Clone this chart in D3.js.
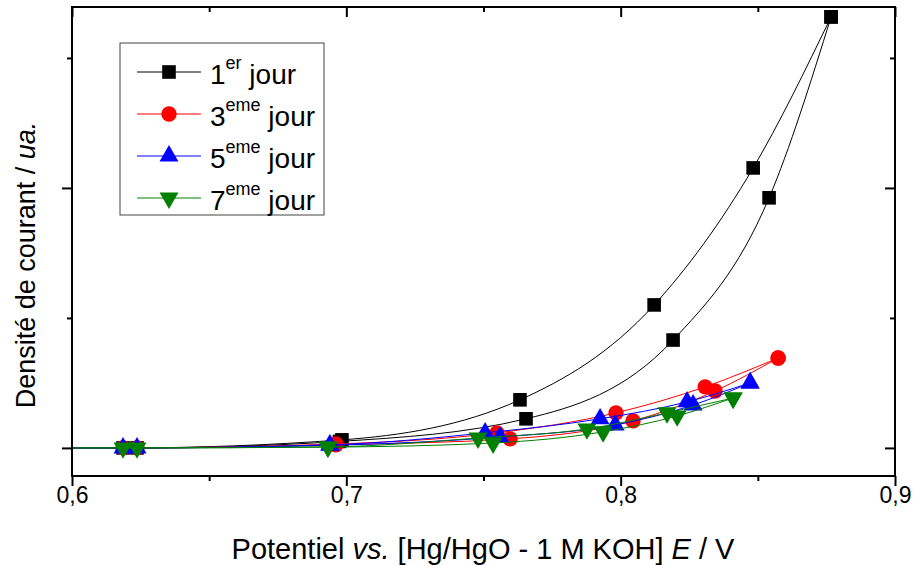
<!DOCTYPE html>
<html>
<head>
<meta charset="utf-8">
<script src="https://cdn.jsdelivr.net/npm/d3@7"></script>
<style>
  html, body { margin: 0; padding: 0; background: #fff; }
  svg { display: block; font-family: "Liberation Sans", Arial, sans-serif; }
</style>
</head>
<body>
<svg id="chart" width="914" height="566"></svg>
<script>
// ---------------- DATA ----------------
const seriesNames = ["1er jour", "3eme jour", "5eme jour", "7eme jour"];
const seriesColors = ["#000000", "#ff0000", "#0000ff", "#008000"];
const seriesSymbols = ["square", "circle", "triangleUp", "triangleDown"];

// curves start at the left edge of the axis at zero current
const curveOrigin = [0.6, 0];

// forward branch (upper curve) : potential (V), current (ua)
const jour1FwdE = [0.6186, 0.6984, 0.7633, 0.8122, 0.8483, 0.8767];
const jour1FwdI = [0.000, 0.031, 0.185, 0.550, 1.077, 1.658];
// reverse branch (lower curve)
const jour1RevE = [0.6237, 0.6975, 0.7655, 0.8191, 0.8541, 0.8767];
const jour1RevI = [0.000, 0.025, 0.112, 0.415, 0.962, 1.658];

const jour3FwdE = [0.6186, 0.6962, 0.7549, 0.7983, 0.8308, 0.8574];
const jour3FwdI = [0.000, 0.015, 0.058, 0.135, 0.235, 0.346];
const jour3RevE = [0.6237, 0.6962, 0.7597, 0.8045, 0.8344, 0.8574];
const jour3RevI = [0.000, 0.012, 0.035, 0.104, 0.219, 0.346];

const jour5FwdE = [0.6186, 0.6940, 0.7506, 0.7925, 0.8242, 0.8472];
const jour5FwdI = [0.000, 0.012, 0.058, 0.112, 0.177, 0.250];
const jour5RevE = [0.6237, 0.6940, 0.7560, 0.7980, 0.8264, 0.8472];
const jour5RevI = [0.000, 0.010, 0.042, 0.088, 0.165, 0.250];

const jour7FwdE = [0.6186, 0.6933, 0.7480, 0.7877, 0.8169, 0.8410];
const jour7FwdI = [0.000, 0.004, 0.038, 0.073, 0.135, 0.192];
const jour7RevE = [0.6237, 0.6933, 0.7535, 0.7936, 0.8206, 0.8410];
const jour7RevI = [0.000, 0.003, 0.019, 0.062, 0.123, 0.192];

const xMajorTicks = [0.6, 0.7, 0.8, 0.9];
const xMinorTicks = [0.65, 0.75, 0.85];
const yMajorTicks = [0, 1];
const yMinorTicks = [0.5, 1.5];
const xDomain = [0.6, 0.9];
const yDomain = [-0.108, 1.696];

// ---------------- BUILD ----------------
const zip = (E, I) => E.map((e, i) => [e, I[i]]);
const series = [
  { fwd: zip(jour1FwdE, jour1FwdI), rev: zip(jour1RevE, jour1RevI) },
  { fwd: zip(jour3FwdE, jour3FwdI), rev: zip(jour3RevE, jour3RevI) },
  { fwd: zip(jour5FwdE, jour5FwdI), rev: zip(jour5RevE, jour5RevI) },
  { fwd: zip(jour7FwdE, jour7FwdI), rev: zip(jour7RevE, jour7RevI) }
].map((s, i) => ({ ...s, name: seriesNames[i], color: seriesColors[i], symbol: seriesSymbols[i] }));

const svg = d3.select("#chart");
const L = 72, R = 895, T = 7, B = 476;
const x = d3.scaleLinear().domain(xDomain).range([L, R]);
const y = d3.scaleLinear().domain(yDomain).range([B, T]);

const symbolPath = {
  square: d3.symbol().type(d3.symbolSquare).size(185)(),
  circle: d3.symbol().type(d3.symbolCircle).size(185)(),
  triangleUp: d3.symbol().type(d3.symbolTriangle).size(155)(),
  triangleDown: d3.symbol().type(d3.symbolTriangle).size(155)()
};
function drawMarker(g, sym, color, cx, cy) {
  g.append("path")
    .attr("d", symbolPath[sym])
    .attr("transform", `translate(${cx},${cy})` + (sym === "triangleDown" ? " rotate(180)" : ""))
    .attr("fill", color);
}

const line = d3.line().x(d => x(d[0])).y(d => y(d[1])).curve(d3.curveMonotoneX);

const plot = svg.append("g");
series.forEach(s => {
  const g = plot.append("g");
  [s.fwd, s.rev].forEach(branch => {
    g.append("path")
      .datum([curveOrigin, ...branch])
      .attr("d", line)
      .attr("fill", "none")
      .attr("stroke", s.color)
      .attr("stroke-width", 1);
  });
  [...s.fwd, ...s.rev].forEach(p => drawMarker(g, s.symbol, s.color, x(p[0]), y(p[1])));
});

// ---------------- AXES ----------------
const fmt = d => d3.format(".1f")(d).replace(".", ",");
const axisStyle = g => {
  g.select(".domain").remove();
  g.selectAll(".tick line").attr("stroke", "#000").attr("stroke-width", 2);
};
// bottom major + labels
svg.append("g").attr("transform", `translate(0,${B})`)
  .call(d3.axisBottom(x).tickValues(xMajorTicks).tickSize(10).tickPadding(1).tickFormat(fmt))
  .call(axisStyle)
  .call(g => g.selectAll("text").attr("font-size", 23).attr("fill", "#000")
    .attr("font-family", "Liberation Sans, Arial, sans-serif"));
svg.append("g").attr("transform", `translate(0,${B})`)
  .call(d3.axisBottom(x).tickValues(xMinorTicks).tickSize(5).tickFormat(""))
  .call(axisStyle);
// top (inward)
svg.append("g").attr("transform", `translate(0,${T})`)
  .call(d3.axisTop(x).tickValues(xMajorTicks).tickSize(-10).tickFormat(""))
  .call(axisStyle);
svg.append("g").attr("transform", `translate(0,${T})`)
  .call(d3.axisTop(x).tickValues(xMinorTicks).tickSize(-5).tickFormat(""))
  .call(axisStyle);
// left (outward)
svg.append("g").attr("transform", `translate(${L},0)`)
  .call(d3.axisLeft(y).tickValues(yMajorTicks).tickSize(10).tickFormat(""))
  .call(axisStyle);
svg.append("g").attr("transform", `translate(${L},0)`)
  .call(d3.axisLeft(y).tickValues(yMinorTicks).tickSize(5).tickFormat(""))
  .call(axisStyle);
// right (inward)
svg.append("g").attr("transform", `translate(${R},0)`)
  .call(d3.axisRight(y).tickValues(yMajorTicks).tickSize(-10).tickFormat(""))
  .call(axisStyle);
svg.append("g").attr("transform", `translate(${R},0)`)
  .call(d3.axisRight(y).tickValues(yMinorTicks).tickSize(-5).tickFormat(""))
  .call(axisStyle);
// frame
svg.append("rect").attr("x", L).attr("y", T).attr("width", R - L).attr("height", B - T)
  .attr("fill", "none").attr("stroke", "#000").attr("stroke-width", 2);

// ---------------- TITLES ----------------
const xt = svg.append("text").attr("x", 483).attr("y", 559)
  .attr("text-anchor", "middle").attr("font-size", 29).attr("fill", "#000");
xt.append("tspan").text("Potentiel ");
xt.append("tspan").attr("font-style", "italic").text("vs.");
xt.append("tspan").text(" [Hg/HgO - 1 M KOH] ");
xt.append("tspan").attr("font-style", "italic").text("E");
xt.append("tspan").text(" / V");

const yt = svg.append("text").attr("transform", `translate(35,265) rotate(-90)`)
  .attr("text-anchor", "middle").attr("font-size", 27).attr("fill", "#000");
yt.append("tspan").text("Densité de courant / ");
yt.append("tspan").attr("font-style", "italic").text("ua.");

// ---------------- LEGEND ----------------
const leg = svg.append("g");
leg.append("rect").attr("x", 120).attr("y", 43).attr("width", 204).attr("height", 172)
  .attr("fill", "#fff").attr("stroke", "#444").attr("stroke-width", 1);
const supers = ["er", "eme", "eme", "eme"];
const nums = ["1", "3", "5", "7"];
series.forEach((s, i) => {
  const cy = 72 + i * 42;
  leg.append("line").attr("x1", 137).attr("x2", 201).attr("y1", cy).attr("y2", cy)
    .attr("stroke", s.color).attr("stroke-width", 1);
  drawMarker(leg, s.symbol, s.color, 169, cy);
  const t = leg.append("text").attr("x", 210).attr("y", cy + 11.5).attr("font-size", 28).attr("fill", "#000");
  t.append("tspan").text(nums[i]);
  t.append("tspan").attr("font-size", 18).attr("dy", -15).text(supers[i]);
  t.append("tspan").attr("dy", 15).text("\u00a0jour");
});
</script>
</body>
</html>
